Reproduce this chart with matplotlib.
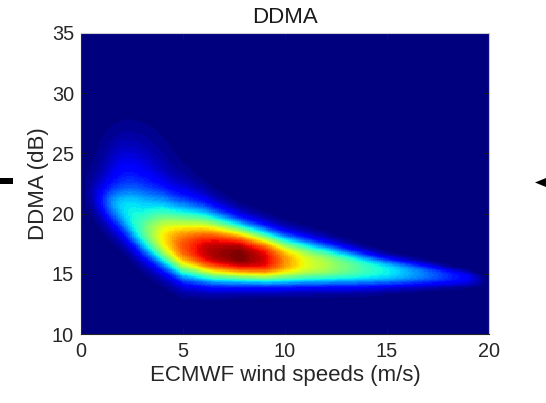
import numpy as np
import matplotlib.pyplot as plt
from matplotlib.patches import Rectangle, Polygon

plt.rcParams['font.family'] = ['Liberation Sans', 'DejaVu Sans']

# Main density ridge, column by column (wind speed in m/s)
wind_ctrl = [0.0, 0.5, 1.0, 2.0, 3.0, 4.0, 5.0, 6.0, 6.5, 7.8, 9.0, 10.0,
             11.0, 12.5, 14.0, 15.0, 17.0, 19.0, 19.7, 20.0]
# DDMA value (dB) of the densest point in each column
ddma_centre = [22.0, 21.5, 20.8, 19.8, 18.7, 18.0, 17.3, 16.9, 16.7, 16.4, 16.1, 15.95,
               15.8, 15.6, 15.35, 15.2, 14.9, 14.65, 14.5, 14.5]
# relative density on the ridge (1 = darkest red)
peak_density = [0.0, 0.03, 0.1, 0.28, 0.45, 0.65, 0.82, 0.93, 0.96, 1.0, 0.92, 0.75,
                0.63, 0.52, 0.42, 0.37, 0.24, 0.11, 0.03, 0.0]
# spread above / below the ridge (dB) and sharpness of the fall-off
spread_up = [1.5, 1.5, 1.6, 1.8, 2.5, 3.0, 3.15, 3.1, 3.0, 2.6, 2.35, 2.1,
             1.95, 1.6, 1.28, 1.07, 0.88, 0.52, 0.4, 0.4]
spread_down = [1.8, 1.8, 1.7, 1.85, 2.15, 2.4, 2.55, 2.35, 2.25, 2.0, 1.82, 1.77,
               1.68, 1.57, 1.4, 1.25, 0.94, 0.7, 0.56, 0.5]
shape_up = [2.0, 2.0, 2.0, 2.0, 2.0, 2.0, 2.0, 2.2, 2.4, 2.6, 2.6, 2.6,
            2.6, 2.6, 2.6, 2.6, 2.6, 2.6, 2.6, 2.6]
shape_down = [2.0, 2.0, 2.0, 2.0, 2.2, 2.4, 2.5, 2.5, 2.5, 2.5, 2.5, 2.5,
              2.5, 2.5, 2.5, 2.5, 2.5, 2.5, 2.5, 2.5]

# faint halo at low wind speeds (the upper-left bands)
halo_wind, halo_ddma, halo_weight = 2.2, 21.5, 0.17
halo_left, halo_right = 1.2, 1.8
halo_up, halo_down = 4.1, 1.4

x_ticks = [0, 5, 10, 15, 20]
y_ticks = [10, 15, 20, 25, 30, 35]


def ridge_density(xs, ys):
    c = np.interp(xs, wind_ctrl, ddma_centre)
    a = np.interp(xs, wind_ctrl, peak_density)
    su = np.interp(xs, wind_ctrl, spread_up)
    sd = np.interp(xs, wind_ctrl, spread_down)
    pu = np.interp(xs, wind_ctrl, shape_up)
    pd = np.interp(xs, wind_ctrl, shape_down)
    d = ys[:, None] - c[None, :]
    up = a * np.exp(-(np.abs(d) / su) ** pu)
    down = a * np.exp(-(np.abs(d) / sd) ** pd)
    return np.where(d > 0, up, down)


def halo_density(xs, ys):
    dx = xs[None, :] - halo_wind
    dy = ys[:, None] - halo_ddma
    sx = np.where(dx < 0, halo_left, halo_right)
    sy = np.where(dy > 0, halo_up, halo_down)
    return halo_weight * np.exp(-(dx / sx) ** 2 - (dy / sy) ** 2)


xs = np.linspace(0, 20, 201)
ys = np.linspace(10, 35, 251)
Z = ridge_density(xs, ys) + halo_density(xs, ys)

fig = plt.figure(figsize=(5.46, 4.03), dpi=100)
ax = fig.add_axes([81 / 546, 1 - 334 / 403, 408 / 546, 301 / 403])

ax.imshow(Z, extent=[0, 20, 10, 35], origin='lower', aspect='auto',
          cmap=plt.get_cmap('jet', 64), vmin=0, vmax=Z.max(),
          interpolation='nearest')

ax.set_xlim(0, 20)
ax.set_ylim(10, 35)
ax.set_xticks(x_ticks)
ax.set_yticks(y_ticks)

text_col = '0.15'
ax.tick_params(direction='in', length=4, width=0.6, colors='0.1',
               labelcolor=text_col, labelsize=14.3, top=True, right=True)
ax.tick_params(axis='x', pad=6)
ax.tick_params(axis='y', pad=5)
for side in ['left', 'bottom']:
    ax.spines[side].set_color('0.15')
    ax.spines[side].set_linewidth(0.8)
for side in ['top', 'right']:
    ax.spines[side].set_color('0.8')
    ax.spines[side].set_linewidth(0.8)

ax.set_title('DDMA', fontsize=16, color='0.1', pad=7)
ax.set_xlabel('ECMWF wind speeds (m/s)', fontsize=16, color=text_col, labelpad=3)
ax.set_ylabel('DDMA (dB)', fontsize=16, color=text_col, labelpad=2)

# bits of neighbouring figures cut off at the edges
fig.add_artist(Rectangle((0, 403 - 184), 13, 6, transform=None,
                         color='black', lw=0))
fig.add_artist(Polygon([(535, 403 - 182.5), (546, 403 - 178), (546, 403 - 187)],
                       closed=True, transform=None, color='black', lw=0))

fig.savefig('out.png', dpi=100)
